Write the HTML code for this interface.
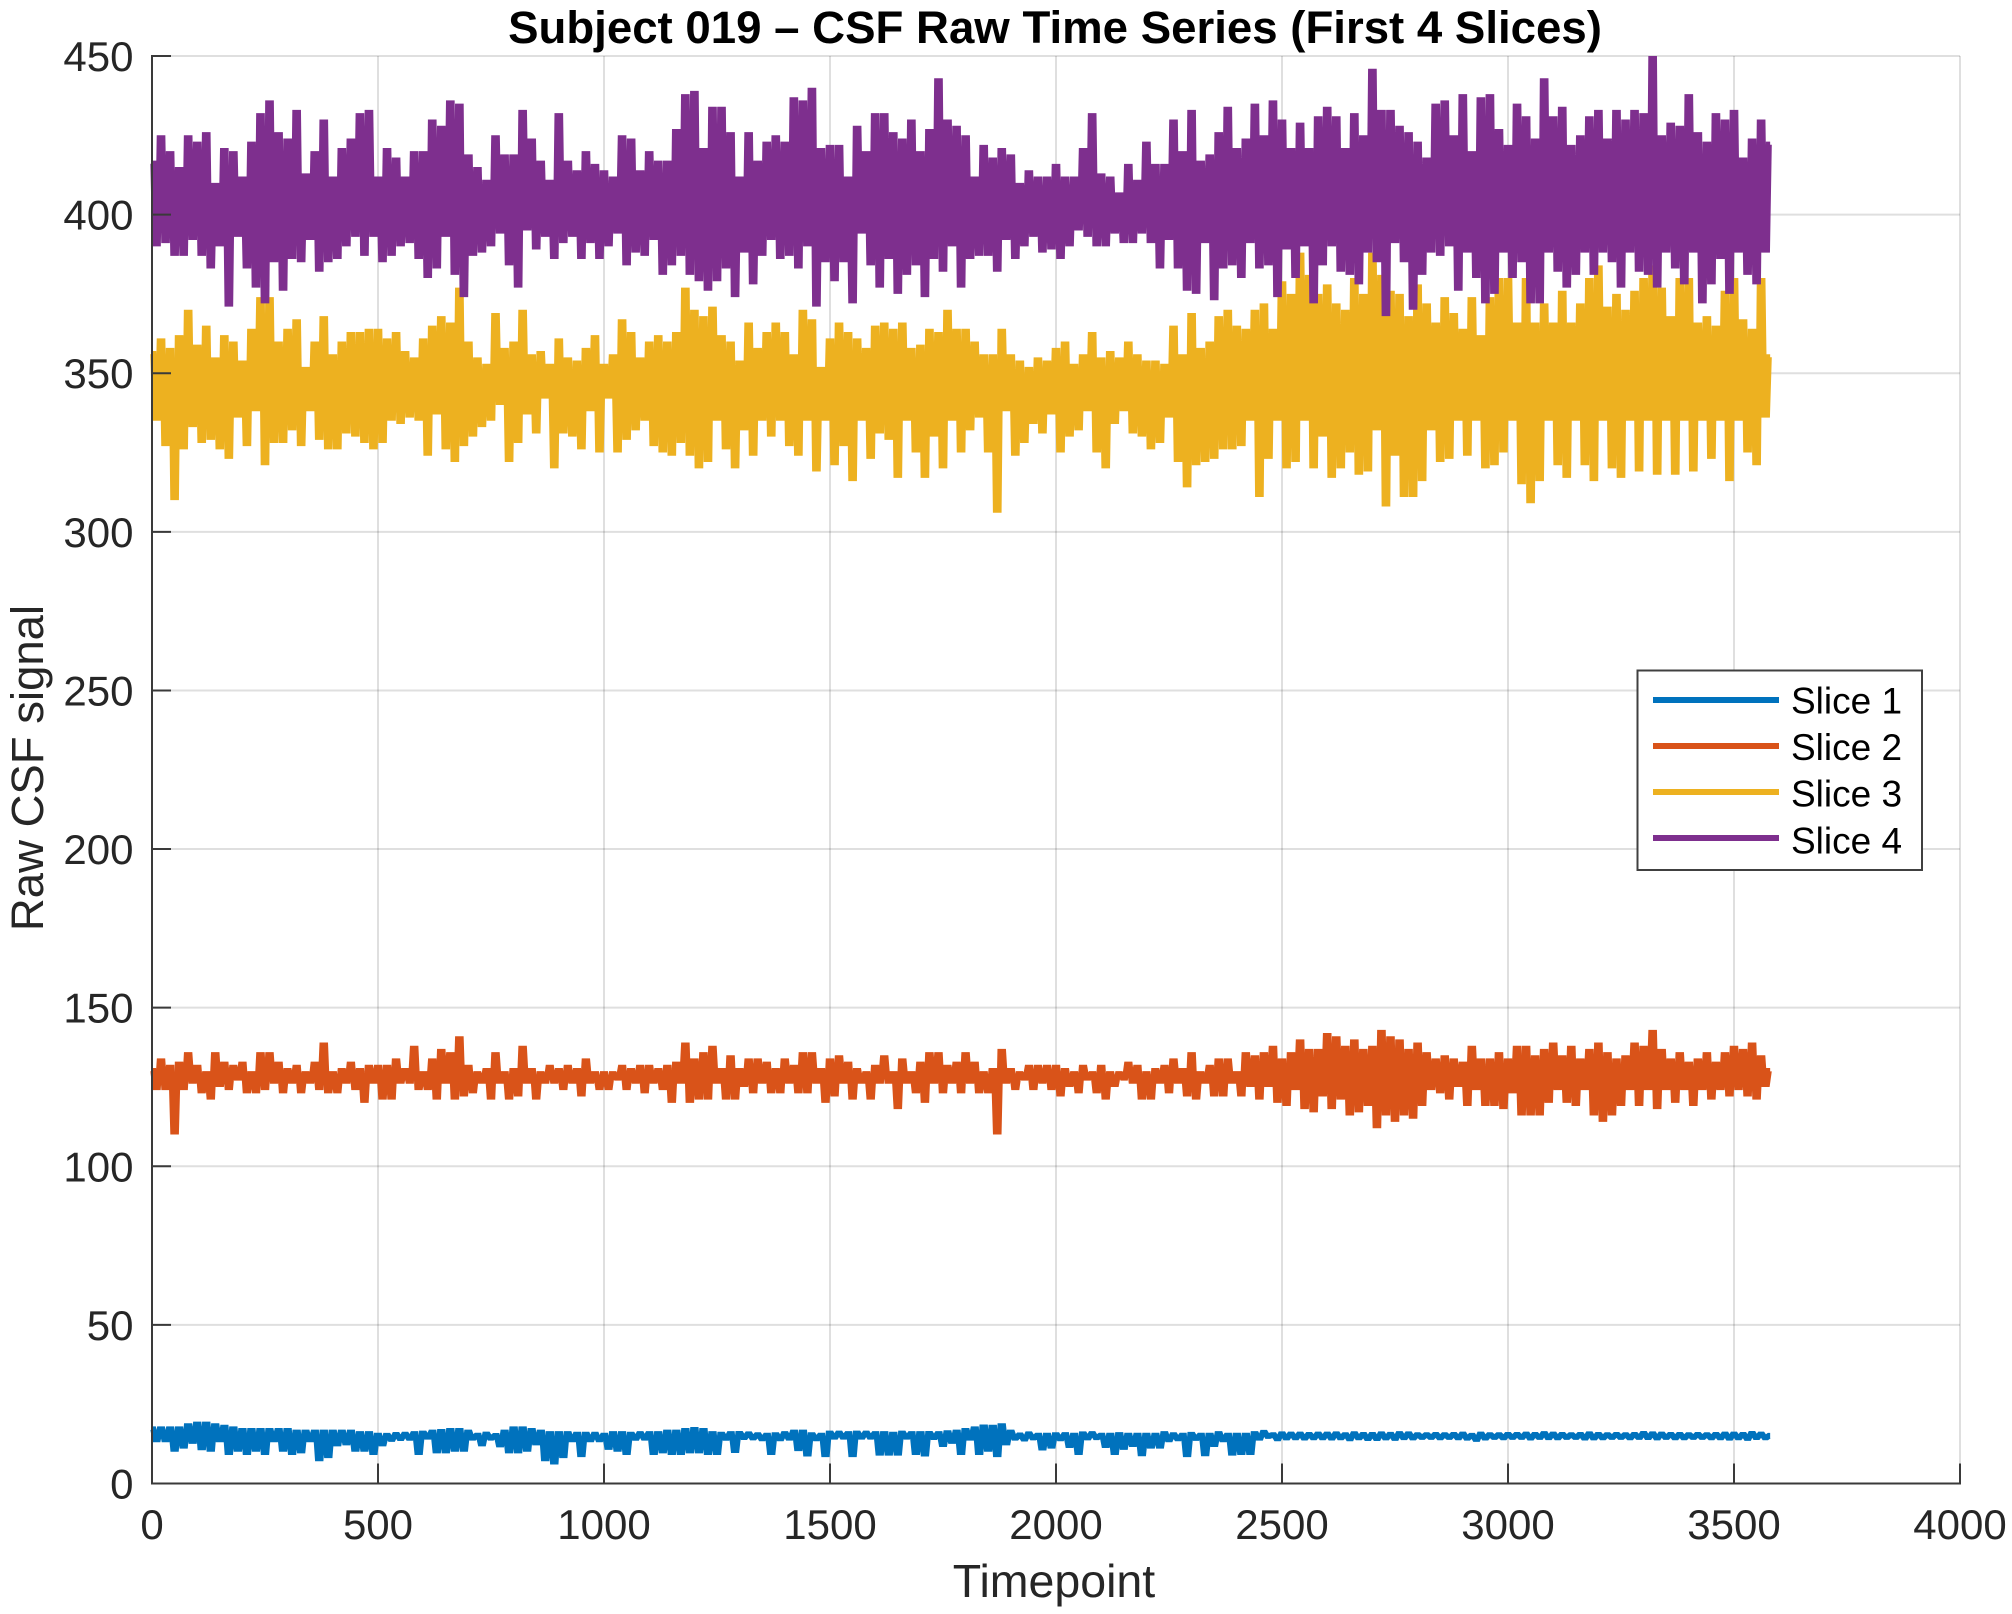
<!DOCTYPE html>
<html lang="en">
<head>
<meta charset="utf-8">
<title>Subject 019 – CSF Raw Time Series (First 4 Slices)</title>
<style>
html,body{margin:0;padding:0;background:#fff;}
svg{display:block;}
text{font-family:"Liberation Sans",Arial,sans-serif;}
.tick-label{font-size:42px;fill:#262626;}
.axis-title{font-size:45.5px;fill:#262626;}
.legend-label{font-size:37px;fill:#000;}
</style>
</head>
<body>
<svg id="chart" xmlns="http://www.w3.org/2000/svg" width="2012" height="1614" viewBox="0 0 2012 1614">
  <rect x="0" y="0" width="2012" height="1614" fill="#fff"/>
  <g id="grid"></g>
  <g id="series"></g>
  <g id="axes"></g>
  <text x="1055" y="43" text-anchor="middle" font-size="45.6" font-weight="700" fill="#000">Subject 019 – CSF Raw Time Series (First 4 Slices)</text>
  <text class="axis-title" x="1054" y="1597" text-anchor="middle" style="font-size:46.5px">Timepoint</text>
  <text class="axis-title" x="0" y="0" text-anchor="middle" transform="translate(43 768) rotate(-90)">Raw CSF signal</text>
  <g id="legend"></g>
</svg>
<script>
const seriesNames = ['Slice 1', 'Slice 2', 'Slice 3', 'Slice 4'];
const xTickLabels = [0, 500, 1000, 1500, 2000, 2500, 3000, 3500, 4000];
const yTickLabels = [0, 50, 100, 150, 200, 250, 300, 350, 400, 450];
const sampleStep = 20;

const slice1High = [
18,18,18,18,19,19.5,19.5,19,18.5,18,
17.5,17.5,17.5,17.5,17.5,17.5,17,17,17,17,
17,17,17,16.5,16.5,16,15.6,15.6,15.8,16.5,
16.5,17,17.2,17.5,17.5,17,16,15.9,15.9,17,
18,18,17.5,17,16.5,16.5,16.5,16.3,16.3,16.3,
16,16.5,16.5,16.3,16.5,16.5,16.5,17,17,17.5,
17.8,17.5,16.5,16.3,16.5,16.3,16,16,16,16,
16.5,17,17,16,16,16.5,16.5,16.5,16.5,16.5,
16.5,16.5,16.3,16.5,16.5,16.5,16.3,16.5,16.8,17,
17.5,18,18.6,18.5,19,17,16,16,16,16,
16,16.2,16,16,16.2,16,16,16.2,16,16,
16,16,16.5,16,16,16.2,16,16,16.5,16,
16,16,16.5,16.5,16,15.5,15.4,15.4,15.3,15.4,
15.4,15.5,15.3,15.6,15.4,15.8,15.6,15.4,15.6,15.5,
15.2,15.2,15.3,15.2,15.3,15.7,15.5,15.4,15.2,15.2,
15.3,15.3,15.4,15.3,15.6,15.4,15.3,15.2,15.3,15.6,
15.3,15.2,15.3,15.2,15.3,15.8,15.5,15.4,15.3,15.3,
15.2,15.3,15.2,15.3,15.5,15.4,15.3,15.8,15.4,15];
const slice1Low = [
13,13,10,11,12.5,10.5,10,13,9,10,
9,10,9,13,10,9,9.5,13,7,8,
11.7,12,10,10,9,11.7,13.5,14,14,9,
14,9.5,9.5,10,10,13.5,11.7,14,11.4,9.5,
9.5,10,12,7,6,8,13,8.3,13,13,
10.6,10,9,13.5,13.5,9,9.5,9,9,9.5,
9.5,9,9,13.5,9.6,14,14,13.5,9,13.5,
13.5,10.2,8.5,13.5,8.3,14,14,8.3,14,14,
8.8,8.8,8.8,14,9,8.5,14,11.5,12.5,9,
13.5,9,10,8.3,12,13.5,13.3,14,10.4,11,
13.5,11.2,9,14,14,11.2,9,10.6,11.5,8.6,
11,11,13,13.5,8.3,13.5,8.6,11.5,13,8.8,
9,9,13.5,14.5,13.5,14.5,14.6,14.5,14.6,14.6,
14.5,14.6,14.2,14.5,14.2,13.8,14.4,14.3,14.6,14.5,
14.7,14.7,14.6,14.7,14.6,14.2,13.6,14.5,14.7,14.6,
14.7,14.7,14.5,14.7,14.6,14.6,14.7,14.7,14.5,14.4,
14.6,14.7,14.7,14.6,14.7,14.5,14.5,14.7,14.6,14.6,
14.7,14.7,14.6,14.6,14.4,14.6,14.4,14.5,14.6];

const slice2High = [
131,134,132,133,136,132,130,136,133,132,
133,130,136,136,133,131,132,130,133,139,
130,131,133,131,132,132,132,134,131,138,
130,134,137,136,141,132,130,131,136,130,
131,138,131,130,132,131,132,131,134,130,
130,130,132,131,132,132,131,132,133,139,
134,136,138,131,135,131,134,134,133,131,
134,132,136,136,131,134,135,133,131,130,
132,135,130,134,130,133,136,136,132,133,
136,133,130,131,137,131,130,132,132,132,
132,131,130,132,130,132,130,130,133,132,
130,131,132,134,131,136,130,132,134,134,
130,136,135,136,138,134,136,140,137,137,
142,141,138,140,137,138,143,141,140,137,
139,136,134,135,134,133,138,134,134,136,
134,138,138,135,137,139,135,138,134,137,
139,136,134,135,139,138,143,137,134,136,
133,134,136,133,136,138,137,139,135,131];
const slice2Low = [
124,124,110,124,126,123,121,125,124,127,
123,123,124,126,123,126,123,126,124,123,
123,126,124,120,126,121,121,126,126,124,
124,121,126,121,122,123,126,121,126,121,
122,126,121,126,126,124,126,122,126,124,
124,127,124,126,123,126,124,120,126,120,
121,121,126,121,121,125,123,126,123,123,
126,123,123,126,120,122,126,121,126,121,
126,126,118,126,123,120,126,123,126,123,
126,123,123,110,126,124,127,124,126,124,
122,125,123,127,123,121,125,127,126,121,
121,126,123,126,122,121,126,122,122,126,
122,125,121,125,120,119,124,118,117,122,
118,121,116,117,119,112,116,114,116,115,
119,124,123,121,125,119,124,119,119,118,
123,116,116,116,120,124,120,119,124,116,
114,116,119,124,119,124,118,124,120,124,
119,124,121,124,122,124,122,121,125];

const slice3High = [
357,361,358,362,370,359,365,355,362,360,
354,364,374,374,360,364,367,352,360,368,
356,360,363,363,364,364,361,363,357,355,
361,365,368,366,377,360,355,353,369,358,
360,370,356,357,353,361,355,354,358,362,
353,356,367,363,355,360,362,360,363,377,
370,368,371,362,360,354,366,358,363,366,
363,356,370,367,352,361,366,363,361,358,
365,366,364,366,358,359,364,363,370,364,
364,360,356,356,364,356,354,352,355,354,
358,360,353,356,363,355,357,355,360,356,
354,354,353,365,356,369,358,360,368,370,
365,364,370,372,364,379,375,388,381,375,
378,372,370,380,375,388,381,376,375,368,
378,372,366,374,369,364,374,362,374,380,
380,366,380,366,372,366,376,366,372,380,
384,371,375,370,376,380,384,377,368,380,
380,366,368,365,376,380,367,364,380,356];
const slice3Low = [
335,327,310,326,333,328,329,326,323,336,
327,338,321,328,328,332,327,338,329,326,
326,331,330,328,326,328,335,334,336,335,
324,337,326,322,327,330,333,335,340,322,
328,337,331,342,320,331,330,326,338,325,
342,325,329,332,335,327,325,324,328,324,
320,322,335,326,320,332,324,335,330,335,
327,324,335,319,335,321,327,316,335,323,
331,329,317,335,325,317,330,320,335,325,
332,336,325,306,338,324,328,334,331,337,
325,330,332,338,325,320,334,338,331,330,
326,328,336,322,314,321,322,323,326,326,
327,335,311,323,335,320,322,335,320,330,
317,320,325,318,319,332,308,324,311,311,
316,332,322,323,335,324,335,320,321,325,
335,315,309,316,335,321,317,335,321,316,
335,320,317,335,319,335,318,335,318,335,
319,335,323,335,316,335,325,321,336];

const slice4High = [
417,425,420,415,425,423,426,410,421,420,
412,423,432,436,426,424,433,413,420,430,
412,421,424,432,433,412,421,418,412,420,
420,430,428,436,435,419,415,411,425,419,
419,433,424,417,411,432,417,414,420,416,
414,412,425,424,414,420,417,417,427,438,
439,421,434,434,426,412,426,417,423,425,
423,437,436,440,421,422,422,412,428,420,
432,432,426,424,430,420,427,443,430,428,
425,412,422,418,421,419,410,414,412,412,
416,412,412,421,432,413,412,407,416,411,
423,416,416,430,420,433,417,419,426,434,
421,424,435,425,436,430,421,429,421,431,
434,431,421,432,425,446,433,433,428,426,
423,418,435,436,425,438,420,437,438,427,
422,435,431,424,443,431,434,422,425,431,
433,424,433,430,433,432,450,425,429,428,
438,426,423,432,430,433,418,424,430,423];
const slice4Low = [
390,391,387,387,392,387,383,390,371,393,
383,377,372,385,376,386,385,392,382,385,
386,390,393,387,393,385,387,390,391,386,
380,383,393,381,374,387,388,390,394,384,
377,395,389,393,386,391,393,386,391,386,
390,394,384,388,387,392,381,384,387,381,
379,376,379,383,374,388,378,387,392,386,
387,383,390,371,385,379,385,372,394,384,
377,386,375,381,384,374,386,382,390,377,
386,387,387,382,392,386,390,393,388,389,
386,390,395,393,390,390,394,391,391,394,
391,383,392,383,376,375,391,373,383,384,
380,391,383,384,374,389,380,390,372,384,
390,382,381,378,388,385,368,391,385,370,
381,388,387,390,376,388,380,372,375,388,
380,385,372,372,388,382,377,381,388,381,
388,385,377,388,382,381,377,388,383,378,
388,372,378,386,375,388,381,378,388];

const seriesHigh = [slice1High, slice2High, slice3High, slice4High];
const seriesLow = [slice1Low, slice2Low, slice3Low, slice4Low];
const seriesColors = ['#0072BD', '#D95319', '#EDB120', '#7E2F8E'];

const NS = 'http://www.w3.org/2000/svg';
const plot = { left: 152, right: 1960, top: 56, bottom: 1483.5 };
const xDomain = [0, 4000];
const yDomain = [0, 450];
const lineWidth = 6;

function xScale(v) {
  return plot.left + (v - xDomain[0]) / (xDomain[1] - xDomain[0]) * (plot.right - plot.left);
}
function yScale(v) {
  return plot.bottom - (v - yDomain[0]) / (yDomain[1] - yDomain[0]) * (plot.bottom - plot.top);
}
function make(tag, attrs, parent) {
  const el = document.createElementNS(NS, tag);
  for (const k in attrs) el.setAttribute(k, attrs[k]);
  parent.appendChild(el);
  return el;
}
function strokeInset(vHigh, vLow) {
  const span = yScale(vLow) - yScale(vHigh);
  return Math.max(0, Math.min(lineWidth / 2, (span - 3) / 2));
}

const gridG = document.getElementById('grid');
const axesG = document.getElementById('axes');
const seriesG = document.getElementById('series');
const legendG = document.getElementById('legend');
const GRID = 'rgba(38,38,38,0.15)';
const AXIS = '#3a3a3a';

xTickLabels.forEach(function (t) {
  const x = xScale(t);
  if (t !== 0) {
    const g = make('line', { x1: x, x2: x, y1: plot.top, y2: plot.bottom, stroke: GRID, 'stroke-width': 2 }, gridG);
    
    
  }
  const tick = make('line', { x1: x, x2: x, y1: plot.bottom, y2: plot.bottom - 20, stroke: AXIS, 'stroke-width': 2 }, axesG);
  
  
  const label = make('text', { x: x, y: 1539, 'text-anchor': 'middle', class: 'tick-label' }, axesG);
  
  
  label.textContent = String(t);
});

yTickLabels.forEach(function (t) {
  const y = yScale(t);
  if (t !== 0) {
    const g = make('line', { x1: plot.left, x2: plot.right, y1: y, y2: y, stroke: GRID, 'stroke-width': 2 }, gridG);
    
    
  }
  const tick = make('line', { x1: plot.left, x2: plot.left + 19, y1: y, y2: y, stroke: AXIS, 'stroke-width': 2 }, axesG);
  
  
  const label = make('text', { x: 133.5, y: y + 15, 'text-anchor': 'end', class: 'tick-label' }, axesG);
  
  
  label.textContent = String(t);
});

const xAxisLine = make('line', { x1: plot.left - 1, x2: plot.right + 1, y1: plot.bottom, y2: plot.bottom, stroke: AXIS, 'stroke-width': 2 }, axesG);


const yAxisLine = make('line', { x1: plot.left, x2: plot.left, y1: plot.top - 1, y2: plot.bottom + 1, stroke: AXIS, 'stroke-width': 2 }, axesG);



seriesNames.forEach(function (name, s) {
  const hi = seriesHigh[s];
  const lo = seriesLow[s];
  const lastT = (hi.length - 1) * sampleStep;
  const pts = [];
  function add(t, py) {
    pts.push(xScale(Math.max(0, Math.min(lastT, t))).toFixed(2) + ',' + py.toFixed(2));
  }
  for (let i = 0; i < hi.length; i++) {
    const t = i * sampleStep;
    const pair = i < lo.length ? lo[i] : lo[lo.length - 1];
    const inset = strokeInset(hi[i], pair);
    add(t - 3, yScale(hi[i]) + inset);
    add(t + 3, yScale(hi[i]) + inset);
    if (i < lo.length) {
      add(t + 7, yScale(lo[i]) - inset);
      add(t + 13, yScale(lo[i]) - inset);
    }
  }
  const line = make('polyline', {
    points: pts.join(' '),
    fill: 'none',
    stroke: seriesColors[s],
    'stroke-width': lineWidth,
    'stroke-linejoin': 'miter',
    'stroke-miterlimit': 2,
    'stroke-linecap': 'butt'
  }, seriesG);
  
  
});

const legendBox = make('rect', { x: 1637.5, y: 670.5, width: 284.5, height: 199.5, fill: '#fff', stroke: '#404040', 'stroke-width': 2 }, legendG);


seriesNames.forEach(function (name, s) {
  const rowY = 700 + s * 46;
  const swatch = make('line', { x1: 1653, x2: 1779, y1: rowY, y2: rowY, stroke: seriesColors[s], 'stroke-width': 6 }, legendG);
  
  
  const label = make('text', { x: 1791, y: 713.5 + s * 46.6, class: 'legend-label' }, legendG);
  
  
  label.textContent = name;
});
</script>
</body>
</html>
